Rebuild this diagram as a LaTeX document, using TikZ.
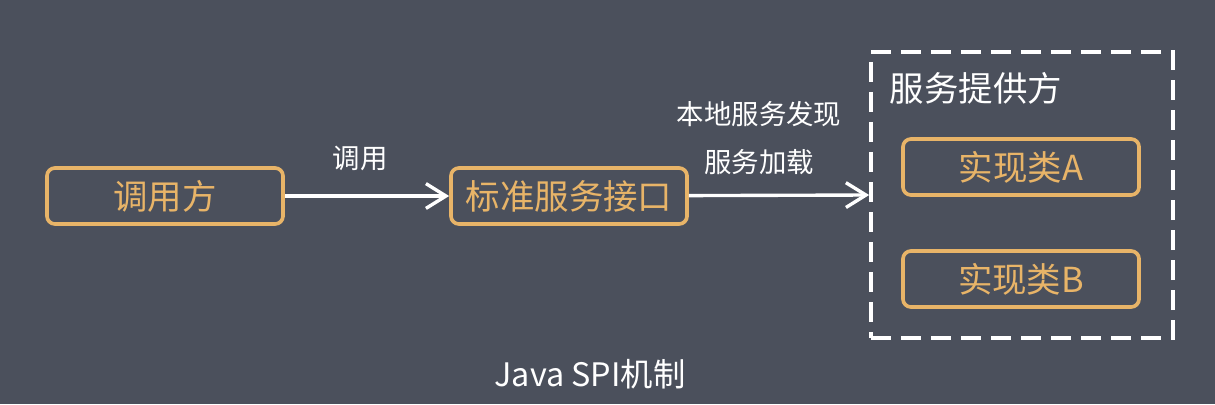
\documentclass[tikz,border=0pt]{standalone}
\usepackage{fontspec}
\setmainfont{Noto Sans CJK SC}
\usetikzlibrary{arrows.meta}
\definecolor{bgslate}{RGB}{75,80,92}
\definecolor{boxorange}{RGB}{232,180,104}
\begin{document}
\begin{tikzpicture}[
    x=0.025cm, y=-0.025cm,
    % Node styles
    party/.style={
        draw=boxorange,
        line width=2.6pt,
        rounded corners=0.2cm,
        minimum width=5.9cm,
        minimum height=1.4cm,
        text=boxorange,
        font=\fontsize{24.5pt}{28pt}\selectfont
    },
    provider/.style={
        draw=white,
        line width=2.6pt,
        dash pattern=on 0.5cm off 0.25cm,
        minimum width=7.55cm,
        minimum height=7.15cm
    },
    tag/.style={
        text=white,
        font=\fontsize{19.5pt}{23pt}\selectfont
    },
    % Arrow style
    arrow/.style={draw=white, line width=2.4pt, -{Straight Barb[length=0.5cm,width=0.62cm,line width=2.4pt]}}
    ]

    % Background and bounding box
    \fill[bgslate] (0,0) rectangle (1215,404);
    \useasboundingbox (0,0) rectangle (1215,404);

    % Caller and interface
    \node[party] (caller) at (165,196) {调用方};
    \node[party] (iface) at (569,196) {标准服务接口};

    % Provider group
    \node[provider] (prov) at (1022,195) {};
    \node[tag, anchor=west, font=\fontsize{24.5pt}{28pt}\selectfont] (provlabel) at (885,88) {服务提供方};
    \node[party] (implA) at (1021,167) {实现类A};
    \node[party] (implB) at (1021,279) {实现类B};

    % Arrows
    \draw[arrow] (caller) -- (iface);
    \draw[arrow] (iface) -- (prov.west);

    % Arrow labels
    \node[tag] (calllabel) at (360,158) {调用};
    \node[tag] (findlabel) at (759,114) {本地服务发现};
    \node[tag] (loadlabel) at (759,162) {服务加载};

    % Caption
    \node[tag, font=\fontsize{23pt}{26pt}\selectfont] (caption) at (590,374) {Java SPI机制};

\end{tikzpicture}
\end{document}
